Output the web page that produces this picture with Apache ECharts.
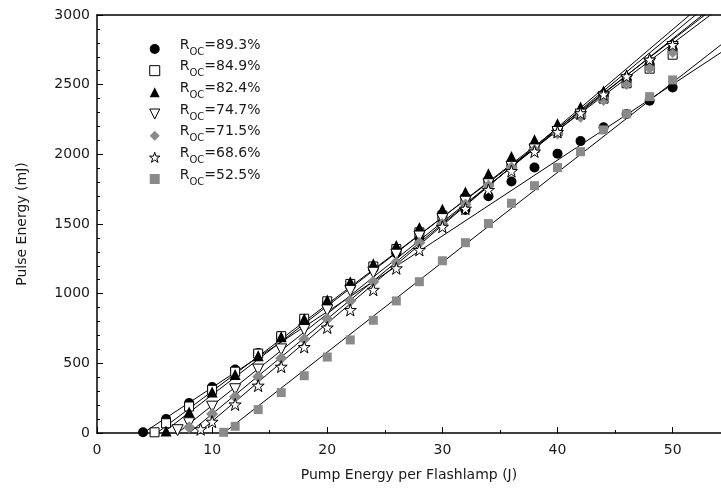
<!DOCTYPE html>
<html><head><meta charset="utf-8">
<script src="https://cdn.jsdelivr.net/npm/echarts/dist/echarts.min.js"></script>
<style>html,body{margin:0;padding:0;background:#fff}#c{width:721px;height:498px}</style>
</head><body><div id="c"></div>
<script>
// Output-coupler reflectivities (legend labels)
const reflectivities = ['89.3%', '84.9%', '82.4%', '74.7%', '71.5%', '68.6%', '52.5%'];

// Pump energy per flashlamp (J) and pulse energy (mJ) per series
const pump_893 = [4,6,8,10,12,14,16,18,20,22,24,26,28,30,32,34,36,38,40,42,44,46,48,50];
const pulse_893 = [5,100,215,330,455,575,690,815,940,1065,1180,1290,1400,1500,1600,1700,1805,1905,2005,2095,2195,2290,2385,2480];

const pump_849 = [5,6,8,10,12,14,16,18,20,22,24,26,28,30,32,34,36,38,40,42,44,46,48,50];
const pulse_849 = [5,70,190,310,440,570,695,820,945,1070,1195,1320,1440,1560,1680,1800,1920,2045,2165,2285,2400,2510,2615,2715];

const pump_824 = [6,8,10,12,14,16,18,20,22,24,26,28,30,32,34,36,38,40,42,44,46,48,50];
const pulse_824 = [15,150,295,420,555,690,820,955,1085,1215,1345,1475,1605,1730,1860,1985,2105,2220,2340,2455,2570,2685,2790];

const pump_747 = [7,8,10,12,14,16,18,20,22,24,26,28,30,32,34,36,38,40,42,44,46,48,50];
const pulse_747 = [20,70,189,314,455,600,739,880,1020,1150,1280,1410,1535,1660,1785,1910,2035,2160,2285,2410,2530,2650,2770];

const pump_715 = [8,10,12,14,16,18,20,22,24,26,28,30,32,34,36,38,40,42,44,46,48,50];
const pulse_715 = [41,136,261,404,536,673,818,950,1086,1225,1365,1500,1640,1775,1905,2030,2150,2270,2390,2505,2620,2735];

const pump_686 = [9,10,12,14,16,18,20,22,24,26,28,30,32,34,36,38,40,42,44,46,48,50];
const pulse_686 = [27,81,205,340,476,617,757,883,1028,1182,1314,1480,1610,1745,1880,2020,2160,2295,2430,2560,2680,2785];

const pump_525 = [11,12,14,16,18,20,22,24,26,28,30,32,34,36,38,40,42,44,46,48,50];
const pulse_525 = [5,48,168,290,411,545,668,809,948,1086,1236,1366,1503,1649,1775,1905,2019,2175,2290,2414,2534];

// Linear fits: threshold (J) and slope (mJ/J)
const fitThreshold = [4.0, 5.2, 5.7, 7.0, 8.0, 8.8, 11.0];
const fitSlope = [54.4, 62.4, 63.7, 65.8, 68.2, 70.3, 64.5];

// Axis ticks
const xTicks = [0, 10, 20, 30, 40, 50];
const yTicks = [0, 500, 1000, 1500, 2000, 2500, 3000];

const pumps = [pump_893, pump_849, pump_824, pump_747, pump_715, pump_686, pump_525];
const pulses = [pulse_893, pulse_849, pulse_824, pulse_747, pulse_715, pulse_686, pulse_525];

const STAR = 'path://M50,2 L61.5,36 L97,36 L68.5,57.5 L79.5,92 L50,71 L20.5,92 L31.5,57.5 L3,36 L38.5,36 Z';
const GREY = '#8a8a8a';
const HOLLOW = {color: '#fff', borderColor: '#000', borderWidth: 1};
const styles = [
  {symbol: 'circle', icon: 'path://M50,0 A50,50 0 1,1 49.99,0 Z', size: 10, rotate: 0, item: {color: '#000'}},
  {symbol: 'rect', icon: 'path://M0,0 L100,0 L100,100 L0,100 Z', size: 9, rotate: 0, item: HOLLOW},
  {symbol: 'triangle', icon: 'path://M50,0 L100,100 L0,100 Z', size: 11, rotate: 0, item: {color: '#000'}},
  {symbol: 'triangle', icon: 'path://M0,0 L100,0 L50,100 Z', size: 11, rotate: 180, item: HOLLOW},
  {symbol: 'diamond', icon: 'path://M50,0 L100,50 L50,100 L0,50 Z', size: 12, rotate: 0, item: {color: GREY}},
  {symbol: STAR, icon: STAR, size: 12, rotate: 0, item: HOLLOW},
  {symbol: 'rect', icon: 'path://M0,0 L100,0 L100,100 L0,100 Z', size: 9, rotate: 0, item: {color: GREY}}
];

const names = reflectivities.map(r => 'R_OC=' + r);
const series = [];
fitThreshold.forEach((t, i) => {
  const eTop = 3200;
  series.push({
    type: 'line', name: 'fit' + i, silent: true, symbol: 'none', clip: true,
    data: [[t, 0], [t + eTop / fitSlope[i], eTop]],
    lineStyle: {color: '#000', width: 1}, z: 1, animation: false
  });
});
names.forEach((n, i) => {
  const s = styles[i];
  series.push({
    type: 'scatter', name: n, symbol: s.symbol, symbolSize: s.size, symbolRotate: s.rotate,
    itemStyle: Object.assign({opacity: 1}, s.item),
    data: pumps[i].map((x, k) => [x, pulses[i][k]]),
    z: 2 + i, animation: false
  });
});

const FONT = 'DejaVu Sans';
const TXT = '#1a1a1a';
const XMAX = 54.2;
const chart = echarts.init(document.getElementById('c'), null, {renderer: 'canvas'});
chart.setOption({
  backgroundColor: '#fff',
  animation: false,
  grid: {left: 97, top: 15, bottom: 65, right: 0, show: false, containLabel: false},
  legend: {
    orient: 'vertical', left: 144, top: 33, itemWidth: 40, itemHeight: 10, itemGap: 2.67,
    selectedMode: false, symbolKeepAspect: true,
    data: names.map((n, i) => ({name: n, icon: styles[i].icon, itemStyle: styles[i].item})),
    formatter: function (name) {
      const r = name.split('=')[1];
      return '{r|R}{s|OC}{r|=' + r + '}';
    },
    textStyle: {
      fontFamily: FONT, fontSize: 14, color: TXT,
      rich: {
        r: {fontFamily: FONT, fontSize: 14, color: TXT, lineHeight: 16, padding: [0, 0, 5, 0], verticalAlign: 'bottom'},
        s: {fontFamily: FONT, fontSize: 10, color: TXT, lineHeight: 8, verticalAlign: 'bottom'}
      }
    }
  },
  xAxis: [{
    type: 'value', min: 0, max: XMAX, interval: 10, position: 'bottom',
    name: 'Pump Energy per Flashlamp (J)', nameLocation: 'middle', nameGap: 35,
    nameTextStyle: {fontFamily: FONT, fontSize: 14, color: TXT},
    axisLine: {show: true, lineStyle: {color: '#000', width: 1.5}},
    axisTick: {show: true, inside: true, length: 6, lineStyle: {color: '#000', width: 1}},
    splitLine: {show: false},
    axisLabel: {
      margin: 10, fontFamily: FONT, fontSize: 14, color: TXT, showMaxLabel: false,
      formatter: v => (xTicks.indexOf(v) >= 0 ? String(v) : '')
    }
  }, {
    type: 'value', min: 0, max: XMAX, interval: 5, position: 'bottom', offset: 0,
    axisLine: {show: false},
    axisTick: {show: true, inside: true, length: 3, lineStyle: {color: '#000', width: 1}},
    axisLabel: {show: false}, splitLine: {show: false}
  }, {
    type: 'value', min: 0, max: XMAX, position: 'top',
    axisLine: {show: true, lineStyle: {color: '#000', width: 1.5}},
    axisTick: {show: false}, axisLabel: {show: false}, splitLine: {show: false}
  }],
  yAxis: {
    type: 'value', min: 0, max: 3000, interval: 500,
    name: 'Pulse Energy (mJ)', nameLocation: 'middle', nameGap: 68,
    nameTextStyle: {fontFamily: FONT, fontSize: 14, color: TXT},
    axisLine: {show: true, lineStyle: {color: '#000', width: 1.5}},
    axisTick: {show: true, inside: true, length: 6, lineStyle: {color: '#000', width: 1}},
    minorTick: {show: true, splitNumber: 5, length: 3, lineStyle: {color: '#000', width: 1}},
    splitLine: {show: false},
    axisLabel: {
      margin: 7, fontFamily: FONT, fontSize: 14, color: TXT,
      formatter: v => (yTicks.indexOf(v) >= 0 ? String(v) : '')
    }
  },
  series: series
});
</script></body></html>
